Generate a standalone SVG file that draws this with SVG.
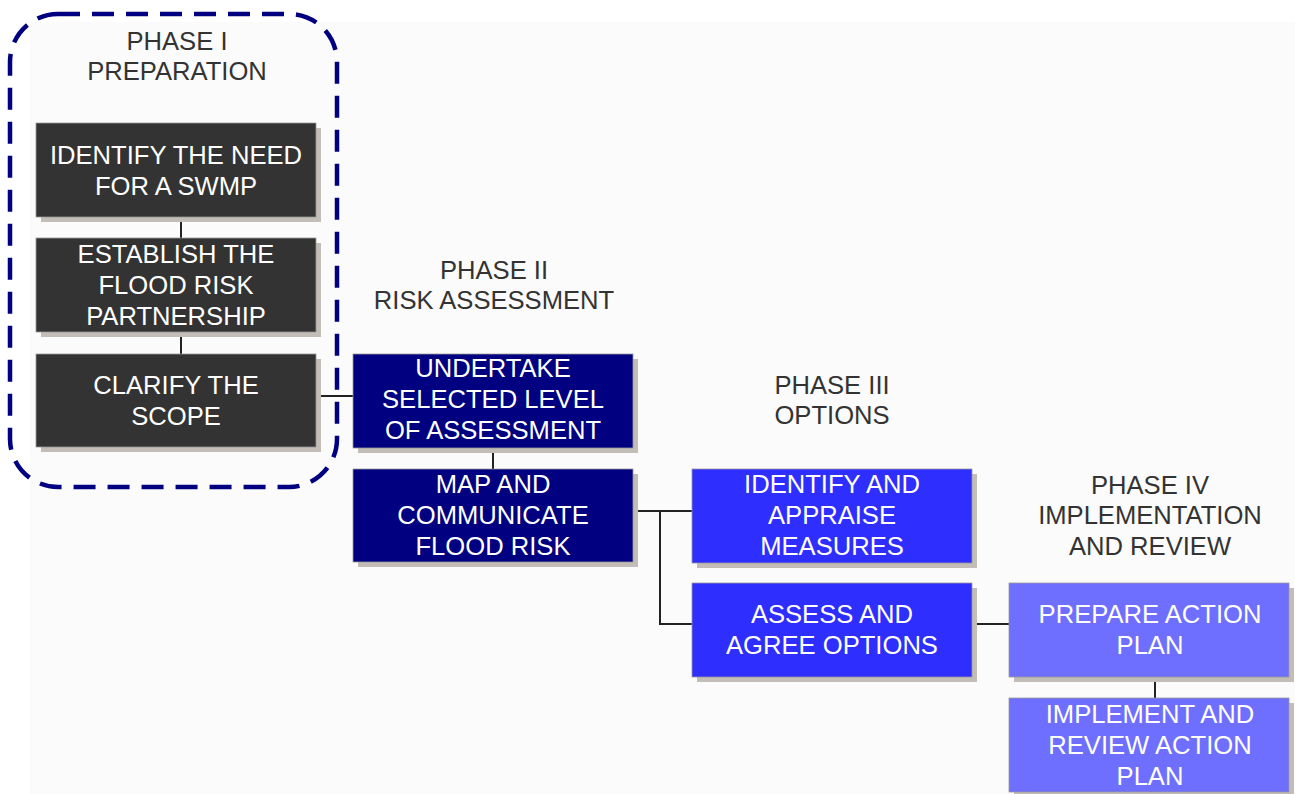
<svg xmlns="http://www.w3.org/2000/svg" width="1295" height="794" viewBox="0 0 1295 794">
<style>
.sh{fill:#c2bdb6}
.b{stroke:#9a9a9a;stroke-width:0.8}
.p1{fill:#333333}
.p2{fill:#000080}
.p3{fill:#2e2eff}
.p4{fill:#6f6fff}
.t{font-family:"Liberation Sans",Arial,sans-serif;font-size:25.6px;fill:#ffffff;text-anchor:middle}
.h{font-family:"Liberation Sans",Arial,sans-serif;font-size:25.6px;fill:#333333;text-anchor:middle}
.c{stroke:#222222;stroke-width:2;fill:none}
</style>
<rect x="0" y="0" width="1295" height="794" fill="#ffffff"/>
<rect x="30" y="22" width="1265" height="772" fill="#fbfbfb"/>
<g id="connectors">
<line class="c" x1="181" y1="217" x2="181" y2="238"/>
<line class="c" x1="181" y1="332" x2="181" y2="354"/>
<line class="c" x1="316" y1="396" x2="353" y2="396"/>
<line class="c" x1="493" y1="448" x2="493" y2="469"/>
<polyline class="c" points="633,511 692,511"/>
<polyline class="c" points="660,511 660,624 692,624"/>
<line class="c" x1="972" y1="624" x2="1009" y2="624"/>
<line class="c" x1="1155" y1="677" x2="1155" y2="698"/>
</g>
<g id="phase1-label"><text class="h" x="177" y="50">PHASE I</text><text class="h" x="177" y="80">PREPARATION</text></g>
<g id="phase2-label"><text class="h" x="494" y="279">PHASE II</text><text class="h" x="494" y="309">RISK ASSESSMENT</text></g>
<g id="phase3-label"><text class="h" x="832" y="394">PHASE III</text><text class="h" x="832" y="424">OPTIONS</text></g>
<g id="phase4-label"><text class="h" x="1150" y="494">PHASE IV</text><text class="h" x="1150" y="524">IMPLEMENTATION</text><text class="h" x="1150" y="555">AND REVIEW</text></g>
<g id="n1"><rect class="sh" x="41" y="128" width="280" height="94"/><rect class="p1 b" x="36" y="123" width="280" height="94"/><text class="t" x="176" y="164">IDENTIFY THE NEED</text><text class="t" x="176" y="195">FOR A SWMP</text></g>
<g id="n2"><rect class="sh" x="41" y="243" width="280" height="94"/><rect class="p1 b" x="36" y="238" width="280" height="94"/><text class="t" x="176" y="263">ESTABLISH THE</text><text class="t" x="176" y="294">FLOOD RISK</text><text class="t" x="176" y="325">PARTNERSHIP</text></g>
<g id="n3"><rect class="sh" x="41" y="359" width="280" height="93"/><rect class="p1 b" x="36" y="354" width="280" height="93"/><text class="t" x="176" y="394">CLARIFY THE</text><text class="t" x="176" y="425">SCOPE</text></g>
<g id="n4"><rect class="sh" x="358" y="359" width="280" height="94"/><rect class="p2 b" x="353" y="354" width="280" height="94"/><text class="t" x="493" y="377">UNDERTAKE</text><text class="t" x="493" y="408">SELECTED LEVEL</text><text class="t" x="493" y="439">OF ASSESSMENT</text></g>
<g id="n5"><rect class="sh" x="358" y="474" width="280" height="93"/><rect class="p2 b" x="353" y="469" width="280" height="93"/><text class="t" x="493" y="493">MAP AND</text><text class="t" x="493" y="524">COMMUNICATE</text><text class="t" x="493" y="555">FLOOD RISK</text></g>
<g id="n6"><rect class="sh" x="697" y="474" width="280" height="94"/><rect class="p3 b" x="692" y="469" width="280" height="94"/><text class="t" x="832" y="493">IDENTIFY AND</text><text class="t" x="832" y="524">APPRAISE</text><text class="t" x="832" y="555">MEASURES</text></g>
<g id="n7"><rect class="sh" x="697" y="588" width="280" height="94"/><rect class="p3 b" x="692" y="583" width="280" height="94"/><text class="t" x="832" y="623">ASSESS AND</text><text class="t" x="832" y="654">AGREE OPTIONS</text></g>
<g id="n8"><rect class="sh" x="1014" y="588" width="280" height="94"/><rect class="p4 b" x="1009" y="583" width="280" height="94"/><text class="t" x="1150" y="623">PREPARE ACTION</text><text class="t" x="1150" y="654">PLAN</text></g>
<g id="n9"><rect class="sh" x="1014" y="703" width="280" height="94"/><rect class="p4 b" x="1009" y="698" width="280" height="94"/><text class="t" x="1150" y="723">IMPLEMENT AND</text><text class="t" x="1150" y="754">REVIEW ACTION</text><text class="t" x="1150" y="785">PLAN</text></g>
<g id="phase1-boundary"><rect x="10" y="14" width="327" height="473" rx="48" ry="48" fill="none" stroke="#000080" stroke-width="4.5" stroke-dasharray="22,12"/></g>
</svg>
